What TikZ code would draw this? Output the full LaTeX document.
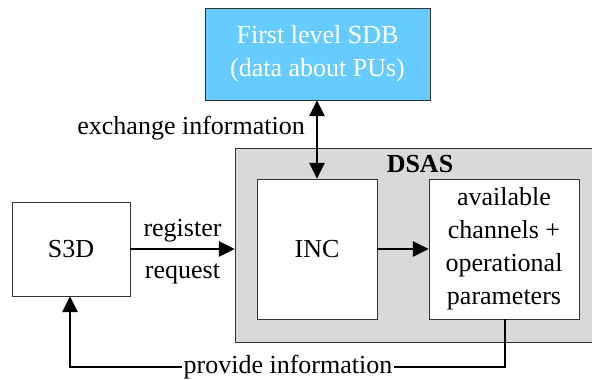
\documentclass[tikz,border=0pt]{standalone}
\usepackage{fontspec}
\setmainfont{Liberation Serif}[UprightFont=*, BoldFont=* Bold]
\usetikzlibrary{arrows.meta}

\definecolor{sdbblue}{RGB}{102,204,255}
\tikzset{
  blk/.style={draw=black!80, fill=white, inner sep=2pt, align=center,
    font=\fontsize{26}{33}\selectfont},
  lbl/.style={font=\fontsize{26}{33}\selectfont, inner sep=1pt},
  tip/.style={-{Triangle[length=16pt,width=15pt]}},
  arr/.style={line width=2.8pt, tip}
}

\begin{document}
\begin{tikzpicture}[x=1pt, y=-1pt]
  \useasboundingbox (0,0) rectangle (592,380);

  \node[blk, fill=sdbblue, text=white,
    minimum width=225pt, minimum height=92pt] (sdb) at (317.5,54) {First level SDB\\(data about PUs)};
  \node[draw=black!80, fill=black!15, minimum width=357pt, minimum height=194pt] (dsas) at (413.5,245) {};
  \node[lbl, font=\fontsize{26}{33}\selectfont\bfseries, anchor=base] (dsaslbl) at (420,172) {DSAS};
  \node[blk, minimum width=120pt, minimum height=140pt] (inc) at (317,249) {INC};
  \node[blk, minimum width=150pt, minimum height=140pt] (avail) at (504,249)
    {available\\channels +\\operational\\parameters};
  \node[blk, minimum width=118pt, minimum height=94pt] (s3d) at (71,249) {S3D};

  \coordinate (corner1) at (505,367);
  \coordinate (corner2) at (70,367);

  \draw[arr] (s3d.east) -- (dsas.west |- s3d.east)
    node[lbl, midway, above=4pt] {register} node[lbl, midway, below=12pt] {request};
  \draw[arr] (inc.east) -- (avail.west);
  \draw[arr, {Triangle[length=16pt,width=15pt]}-{Triangle[length=16pt,width=15pt]}]
    (sdb.south -| inc.north) -- (inc.north);
  \node[lbl, anchor=base east] (exch) at (306,134) {exchange information};
  \draw[arr] (avail.south -| corner1) -- (corner1) -- (corner2) -- (s3d.south -| corner2);
  \node[lbl, fill=white, inner xsep=2pt, inner ysep=0pt, anchor=base] (prov) at (288,373) {provide information};
\end{tikzpicture}
\end{document}
